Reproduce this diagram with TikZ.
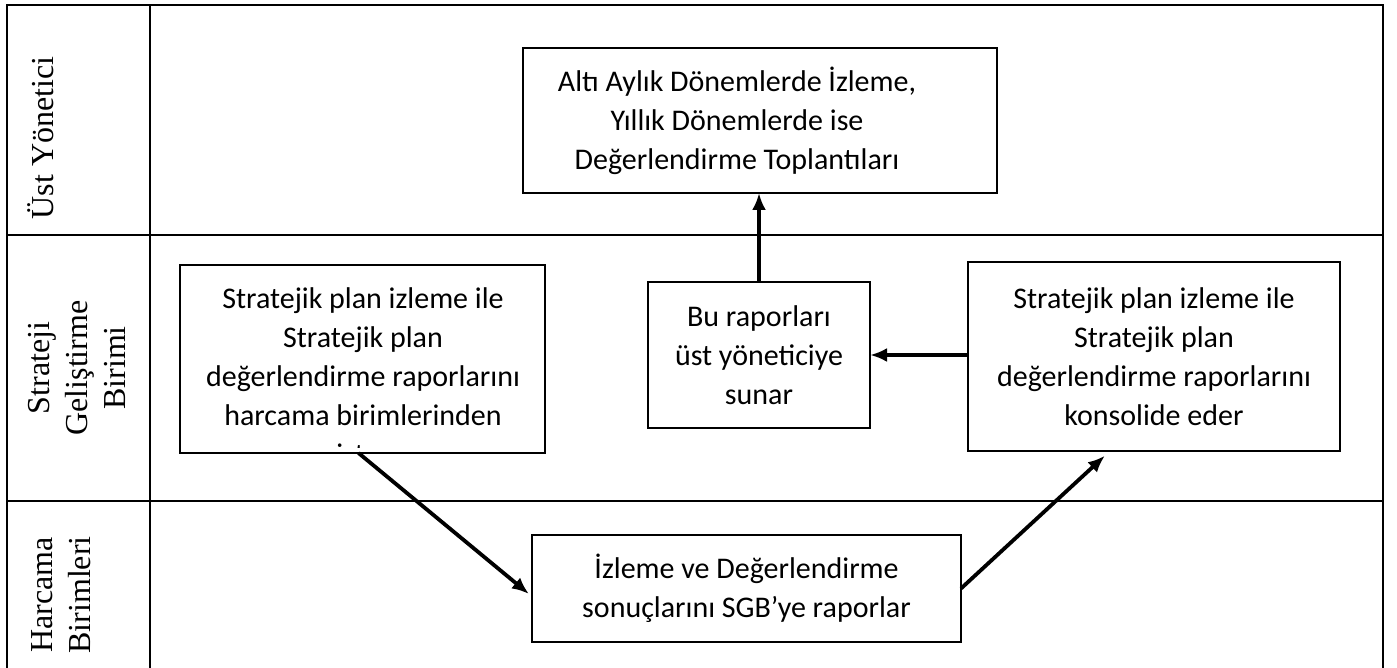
\documentclass[tikz,border=0pt]{standalone}
\usepackage{fontspec}
\setmainfont{Carlito}
\newfontfamily\rowfont{Liberation Serif}
\usetikzlibrary{arrows.meta}

\begin{document}
\begin{tikzpicture}[x=0.5pt, y=-0.5pt,
  box/.style={draw, line width=1.3pt, align=center, inner sep=0pt, outer sep=0pt,
    font=\fontsize{15}{19.5}\selectfont},
  txt/.style={align=center, inner sep=0pt, font=\fontsize{15}{19.5}\selectfont},
  rowlabel/.style={rotate=90, align=center, inner sep=0pt,
    font=\rowfont\fontsize{16}{19}\selectfont},
  flow/.style={line width=1.9pt, -{Latex[length=8.5pt, width=7pt]}},
  grid/.style={line width=1.4pt}]
\useasboundingbox (0,0) rectangle (1397,668);

% table
\draw[grid] (7,668) -- (7,5) -- (1383,5) -- (1383,668);
\draw[grid] (150,5) -- (150,668);
\draw[grid] (7,235) -- (1383,235);
\draw[grid] (7,501) -- (1383,501);

% row labels
\node[rowlabel] (ust) at (41,138) {Üst Yönetici};
\node[rowlabel] (sgb) at (77,368) {Strateji\\Geliştirme\\Birimi};
\node[rowlabel] (harcama) at (61,595) {Harcama\\Birimleri};

% top row
\node[box, minimum width=237pt, minimum height=72.5pt] (toplanti) at (760,120.5) {};
\node[txt] (toplantitxt) at ([xshift=-11.5pt]toplanti.center)
  {Altı Aylık Dönemlerde İzleme,\\Yıllık Dönemlerde ise\\Değerlendirme Toplantıları};

% middle row
\node[box, minimum width=182.5pt, minimum height=94pt] (ister) at (362.5,359) {};
\begin{scope}
\clip (ister.north west) rectangle ([yshift=3pt]ister.south east);
\node[txt] (istertxt) at (363,376) {Stratejik plan izleme ile\\Stratejik plan\\değerlendirme raporlarını\\harcama birimlerinden\\ister};
\end{scope}
\node[box, minimum width=111pt, minimum height=73pt] (sunar) at (759,355)
  {Bu raporları\\üst yöneticiye\\sunar};
\node[box, minimum width=186pt, minimum height=94.5pt] (konsolide) at (1154,356.5)
  {Stratejik plan izleme ile\\Stratejik plan\\değerlendirme raporlarını\\konsolide eder};

% bottom row
\node[box, minimum width=214.5pt, minimum height=53.5pt] (rapor) at (746.5,588.5)
  {İzleme ve Değerlendirme\\sonuçlarını SGB’ye raporlar};

% arrows
\draw[flow] (sunar.north) -- (sunar.north |- toplanti.south);
\draw[flow] (sunar.east -| konsolide.west) -- (sunar.east);
\draw[flow, shorten >=2pt] ([xshift=-2pt]ister.south) -- ([yshift=-4pt]rapor.west);
\draw[flow, shorten >=3.5pt] (rapor.east) -- ([xshift=-22pt]konsolide.south);
\end{tikzpicture}
\end{document}
